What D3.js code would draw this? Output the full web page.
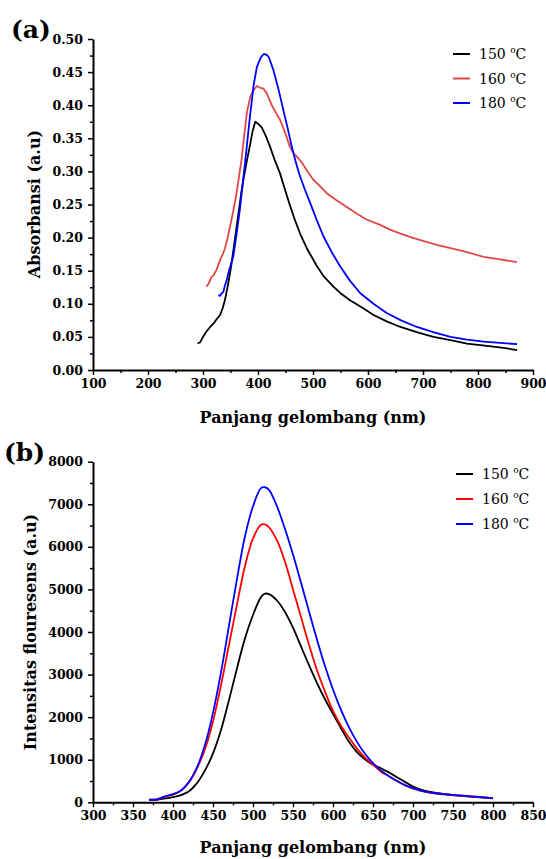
<!DOCTYPE html>
<html><head><meta charset="utf-8">
<script src="https://cdn.jsdelivr.net/npm/d3@7"></script>
<style>body{margin:0;background:#fff}svg{display:block}</style>
</head><body>
<svg id="chart" width="546" height="859"></svg>
<script>
// ---------- Data: (a) absorbance ----------
const seriesNames = ["150 \u00B0C", "160 \u00B0C", "180 \u00B0C"];
const absWl150 = [290,295,300,306,313,319,325,331,336,340,346,352,361,370,374,380,386,390,395,400,407,415,422,430,440,450,458,467,477,490,507,520,537,550,568,590,610,635,659,690,719,750,780,820,850,871];
const absVal150 = [0.040,0.042,0.050,0.058,0.065,0.070,0.077,0.083,0.094,0.106,0.131,0.161,0.216,0.270,0.290,0.317,0.342,0.360,0.375,0.372,0.366,0.352,0.337,0.318,0.297,0.270,0.249,0.227,0.205,0.182,0.157,0.141,0.126,0.116,0.105,0.094,0.083,0.073,0.065,0.057,0.050,0.045,0.040,0.036,0.033,0.030];
const absWl160 = [306,310,315,319,325,331,336,340,345,349,355,361,366,370,375,380,386,392,398,405,410,416,425,433,440,450,458,465,471,480,490,501,510,525,540,560,580,598,620,640,659,680,700,725,750,780,810,840,871];
const absVal160 = [0.126,0.130,0.140,0.143,0.152,0.166,0.175,0.184,0.200,0.216,0.240,0.267,0.295,0.317,0.355,0.390,0.413,0.423,0.429,0.426,0.425,0.418,0.400,0.388,0.378,0.357,0.337,0.327,0.322,0.313,0.300,0.287,0.280,0.267,0.258,0.247,0.236,0.227,0.220,0.212,0.206,0.200,0.195,0.189,0.184,0.178,0.171,0.167,0.163];
const absWl180 = [328,331,334,337,340,343,346,350,355,361,367,372,377,385,392,398,405,410,413,416,420,428,437,446,454,461,468,475,485,495,507,519,534,549,567,586,610,634,660,689,720,750,780,810,840,871];
const absVal180 = [0.113,0.112,0.116,0.118,0.128,0.135,0.146,0.158,0.171,0.205,0.242,0.280,0.317,0.380,0.430,0.458,0.472,0.477,0.477,0.476,0.472,0.453,0.425,0.393,0.365,0.339,0.316,0.296,0.273,0.252,0.226,0.202,0.178,0.157,0.135,0.116,0.100,0.086,0.075,0.065,0.057,0.050,0.046,0.043,0.041,0.039];
const absXTicks = [100,200,300,400,500,600,700,800,900];
const absYTicks = [0.00,0.05,0.10,0.15,0.20,0.25,0.30,0.35,0.40,0.45,0.50];

// ---------- Data: (b) fluorescence ----------
const plWl = [370,380,390,400,410,420,430,440,450,460,470,480,490,500,510,515,520,530,540,550,560,570,580,590,600,610,620,630,640,650,660,670,680,690,700,710,720,740,760,780,800];
const plVal150 = [50,60,90,120,170,260,450,750,1150,1700,2400,3150,3850,4400,4820,4900,4890,4740,4470,4100,3660,3220,2800,2420,2080,1740,1420,1180,1010,880,800,700,590,480,370,300,250,190,150,120,95];
const plVal160 = [60,70,130,180,270,470,800,1250,1900,2750,3700,4650,5550,6200,6520,6530,6460,6150,5650,5000,4350,3700,3100,2600,2150,1800,1520,1260,1050,880,720,610,500,400,320,270,230,180,150,125,100];
const plVal180 = [60,70,140,190,280,480,820,1350,2100,3050,4150,5250,6250,6950,7380,7400,7340,6950,6420,5820,5160,4480,3820,3200,2650,2170,1760,1420,1140,920,750,610,500,405,335,275,235,190,160,130,100];
const plXTicks = [300,350,400,450,500,550,600,650,700,750,800,850];
const plYTicks = [0,1000,2000,3000,4000,5000,6000,7000,8000];

const colorsA = ["#000000","#e04848","#0000ff"];
const colorsB = ["#000000","#ff0000","#0000ff"];

const FONT = "'DejaVu Serif', 'Liberation Serif', serif";
const svg = d3.select("#chart");

function panel(o) {
  const x = d3.scaleLinear().domain(o.xDomain).range([93, 533]);
  const y = d3.scaleLinear().domain(o.yDomain).range(o.yRange);
  const g = svg.append("g");
  // minor ticks
  const xMinor = [];
  for (let i = 0; i < o.xTicks.length - 1; i++) xMinor.push((o.xTicks[i] + o.xTicks[i+1]) / 2);
  const yMinor = [];
  for (let i = 0; i < o.yTicks.length - 1; i++) yMinor.push((o.yTicks[i] + o.yTicks[i+1]) / 2);
  g.append("g").attr("transform", `translate(0,${o.yRange[0]})`)
    .call(d3.axisBottom(x).tickValues(xMinor).tickSize(3).tickFormat(""))
    .call(a => a.select(".domain").remove())
    .call(a => a.selectAll("line").attr("stroke-width", 1.5));
  g.append("g").attr("transform", `translate(93,0)`)
    .call(d3.axisLeft(y).tickValues(yMinor).tickSize(3).tickFormat(""))
    .call(a => a.select(".domain").remove())
    .call(a => a.selectAll("line").attr("stroke-width", 1.5));
  const xa = g.append("g").attr("transform", `translate(0,${o.yRange[0]})`)
    .call(d3.axisBottom(x).tickValues(o.xTicks).tickSize(5).tickSizeOuter(0).tickPadding(4).tickFormat(d3.format("d")));
  const ya = g.append("g").attr("transform", `translate(93,0)`)
    .call(d3.axisLeft(y).tickValues(o.yTicks).tickSize(5).tickSizeOuter(0).tickPadding(5).tickFormat(o.yFmt));
  [xa, ya].forEach(a => {
    a.select(".domain").attr("stroke-width", 2);
    a.selectAll("line").attr("stroke-width", 1.5);
    a.selectAll("text").attr("font-family", FONT).attr("font-weight", "bold")
      .attr("font-size", 12.5).attr("fill", "#000");
  });
  // series
  const line = d3.line().x(d => x(d[0])).y(d => y(d[1])).curve(o.curve);
  o.series.forEach((s, i) => {
    g.append("path").datum(d3.zip(s.wl, s.val))
      .attr("d", line).attr("fill", "none")
      .attr("stroke", o.colors[i]).attr("stroke-width", 1.8)
      .attr("stroke-linejoin", "round");
  });
  // legend
  seriesNames.forEach((n, i) => {
    const ly = o.legendY + i * o.legendDy;
    g.append("line").attr("x1", o.legendX).attr("x2", o.legendX + 17)
      .attr("y1", ly).attr("y2", ly).attr("stroke", o.colors[i]).attr("stroke-width", 2);
    const t = g.append("text").attr("x", o.legendX + 26).attr("y", ly + 5)
      .attr("font-family", FONT).attr("font-size", 14).attr("fill", "#000");
    t.append("tspan").text(n.split(" ")[0] + " ");
    t.append("tspan").text("o").attr("font-size", 9).attr("dy", -6);
    t.append("tspan").text("C").attr("dy", 6);
  });
  // axis titles
  g.append("text").attr("x", 313).attr("y", o.xTitleY).attr("text-anchor", "middle")
    .attr("font-family", FONT).attr("font-weight", "bold").attr("font-size", 16).text("Panjang gelombang (nm)");
  g.append("text").attr("transform", `translate(${o.yTitleX},${o.yTitleY}) rotate(-90)`)
    .attr("text-anchor", "middle").attr("font-family", FONT).attr("font-weight", "bold")
    .attr("font-size", 16).text(o.yTitle);
  g.append("text").attr("x", o.tagX).attr("y", o.tagY).attr("font-family", FONT)
    .attr("font-weight", "bold").attr("font-size", 25).text(o.tag);
}

panel({
  xDomain: [100, 900], yDomain: [0, 0.5], yRange: [370, 39],
  xTicks: absXTicks, yTicks: absYTicks, yFmt: d3.format(".2f"),
  curve: d3.curveLinear, colors: colorsA,
  series: [{wl: absWl150, val: absVal150}, {wl: absWl160, val: absVal160}, {wl: absWl180, val: absVal180}],
  legendX: 453, legendY: 54, legendDy: 24.5,
  xTitleY: 423, yTitleX: 40, yTitleY: 204, yTitle: "Absorbansi (a.u)",
  tag: "(a)", tagX: 11, tagY: 38
});

panel({
  xDomain: [300, 850], yDomain: [0, 8000], yRange: [802.3, 461.7],
  xTicks: plXTicks, yTicks: plYTicks, yFmt: d3.format("d"),
  curve: d3.curveCatmullRom, colors: colorsB,
  series: [{wl: plWl, val: plVal150}, {wl: plWl, val: plVal160}, {wl: plWl, val: plVal180}],
  legendX: 456, legendY: 474, legendDy: 25,
  xTitleY: 853, yTitleX: 36, yTitleY: 632, yTitle: "Intensitas flouresens (a.u)",
  tag: "(b)", tagX: 4, tagY: 461
});
</script>
</body></html>
